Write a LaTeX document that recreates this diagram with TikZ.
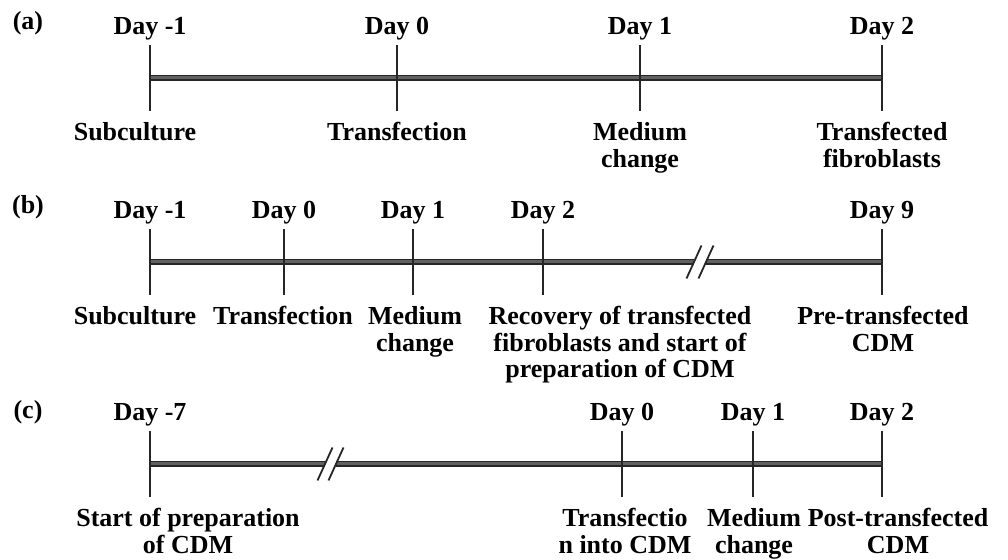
\documentclass[tikz,border=0pt]{standalone}
\usepackage{fontspec}
\setmainfont{Liberation Serif}
\usetikzlibrary{positioning}

\begin{document}
\begin{tikzpicture}[
    x=0.5pt, y=-0.5pt,
    txt/.style={font=\fontsize{13}{13.3}\selectfont\bfseries, inner sep=0pt},
    daylbl/.style={txt},
    event/.style={txt, align=center, anchor=north, yshift=-5.5pt},
    panel/.style={txt, anchor=base},
    tick/.style={line width=0.9pt, black!85},
    bar/.style={line width=0.55pt, draw=black!85, double=black!62, double distance=1.5pt},
    brk/.style={line width=0.9pt, black!85},
]
\useasboundingbox (0,0) rectangle (1008,560);

% (a) transfected fibroblasts
\node[panel] (pa) at (28,30) {(a)};
\foreach \n/\x/\lx/\dy/\ev in {a0/150/135/{Day -1}/{Subculture},
                               a1/397/397/{Day 0}/{Transfection},
                               a2/640/640/{Day 1}/{Medium\\change},
                               a3/882/882/{Day 2}/{Transfected\\fibroblasts}} {
  \coordinate (\n-t) at (\x,45);
  \coordinate (\n-m) at (\x,78);
  \coordinate (\n-b) at (\x,111);
  \node[daylbl, above=2.4pt of \n-t] (\n-d) {\dy};
  \node[event] (\n-e) at (\lx,111) {\ev};
}
\draw[bar] (a0-m) -- (a3-m);
\foreach \n in {a0,a1,a2,a3}
  \draw[tick] (\n-t) -- (\n-b);

% (b) pre-transfected CDM
\node[panel] (pb) at (28,214) {(b)};
\foreach \n/\x/\lx/\dy/\ev in {b0/150/135/{Day -1}/{Subculture},
                               b1/284/283/{Day 0}/{Transfection},
                               b2/413/415/{Day 1}/{Medium\\change},
                               b3/543/620/{Day 2}/{Recovery of transfected\\fibroblasts and start of\\preparation of CDM},
                               b4/882/883/{Day 9}/{Pre-transfected\\CDM}} {
  \coordinate (\n-t) at (\x,229);
  \coordinate (\n-m) at (\x,262);
  \coordinate (\n-b) at (\x,295);
  \node[daylbl, above=2.4pt of \n-t] (\n-d) {\dy};
  \node[event] (\n-e) at (\lx,295) {\ev};
}
\coordinate (bk-l) at (694,262);
\coordinate (bk-r) at (706,262);
\draw[bar] (b0-m) -- (bk-l);
\draw[bar] (bk-r) -- (b4-m);
\foreach \c in {bk-l,bk-r}
  \draw[brk] ([shift={(-7.5,16.5)}]\c) -- ([shift={(7.5,-16.5)}]\c);
\foreach \n in {b0,b1,b2,b3,b4}
  \draw[tick] (\n-t) -- (\n-b);

% (c) post-transfected CDM
\node[panel] (pc) at (28,419) {(c)};
\foreach \n/\x/\lx/\dy/\ev in {c0/150/188/{Day -7}/{Start of preparation\\of CDM},
                               c1/622/625/{Day 0}/{Transfectio\\n into CDM},
                               c2/753/754/{Day 1}/{Medium\\change},
                               c3/882/898/{Day 2}/{Post-transfected\\CDM}} {
  \coordinate (\n-t) at (\x,431);
  \coordinate (\n-m) at (\x,464);
  \coordinate (\n-b) at (\x,497);
  \node[daylbl, above=2.4pt of \n-t] (\n-d) {\dy};
  \node[event] (\n-e) at (\lx,497) {\ev};
}
\coordinate (ck-l) at (325,464);
\coordinate (ck-r) at (336,464);
\draw[bar] (c0-m) -- (ck-l);
\draw[bar] (ck-r) -- (c3-m);
\foreach \c in {ck-l,ck-r}
  \draw[brk] ([shift={(-7.5,16.5)}]\c) -- ([shift={(7.5,-16.5)}]\c);
\foreach \n in {c0,c1,c2,c3}
  \draw[tick] (\n-t) -- (\n-b);
\end{tikzpicture}
\end{document}
